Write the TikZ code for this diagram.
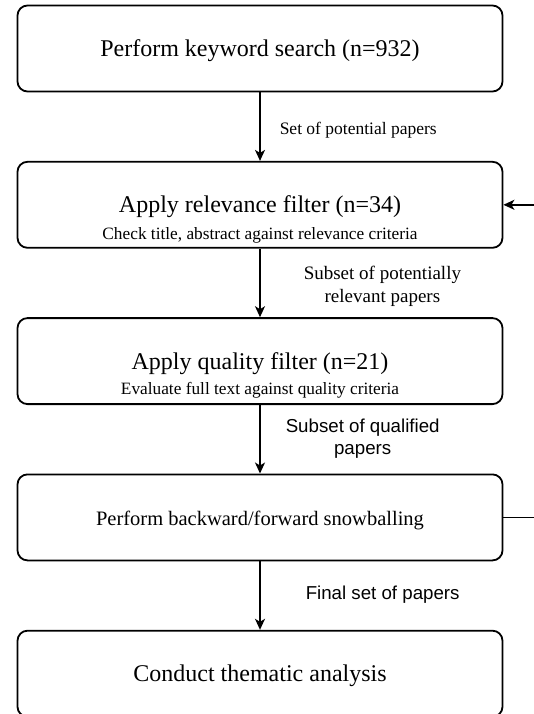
\documentclass[tikz,border=0pt]{standalone}
\usepackage{fontspec}
\setmainfont{Liberation Serif}
\newfontfamily\labelsans{Liberation Sans}
\usetikzlibrary{arrows.meta,positioning}

\begin{document}
\begin{tikzpicture}[
    x=1pt, y=-1pt,
    stepbox/.style={draw, line width=1.8pt, rounded corners=10pt, minimum width=485pt, minimum height=86pt, align=center, text height=18pt, text depth=2pt, font=\fontsize{24}{28}\selectfont},
    flow/.style={-{Stealth[length=11pt,width=10pt,inset=3pt]}, line width=1.5pt},
    note/.style={font=\fontsize{17.3}{20}\selectfont, inner sep=0pt},
    seriflabel/.style={font=\fontsize{19}{23}\selectfont, align=center, inner sep=0pt},
    sanslabel/.style={font=\labelsans\fontsize{18.7}{22}\selectfont, align=center, inner sep=0pt}
]
\useasboundingbox (0,0) rectangle (534,714);
\clip (0,0) rectangle (534,714);

% Steps of the review, top to bottom
\node[stepbox] (search) at (260,48.5) {Perform keyword search (n=932)};
\node[stepbox] (relevance) at (260,204.8) {Apply relevance filter (n=34)};
\node[note] (relevancenote) at (260,235) {Check title, abstract against relevance criteria};
\node[stepbox] (quality) at (260,361.1) {Apply quality filter (n=21)};
\node[note] (qualitynote) at (260,390) {Evaluate full text against quality criteria};
\node[stepbox, font=\fontsize{20.5}{24}\selectfont] (snowball) at (260,517.4) {Perform backward/forward snowballing};
\node[stepbox] (analysis) at (260,673.7) {Conduct thematic analysis};

% Flow between steps
\draw[flow] (search) to node[seriflabel, font=\fontsize{17.5}{21}\selectfont, right=19pt, pos=0.55] {Set of potential papers} (relevance);
\draw[flow] (relevance.south) to node[seriflabel, right=43pt, pos=0.55] {Subset of potentially\\relevant papers} (quality.north);
\draw[flow] (quality.south) to node[sanslabel, right=25pt, pos=0.49] {Subset of qualified\\papers} (snowball.north);
\draw[flow] (snowball) to node[sanslabel, right=45pt, pos=0.49] {Final set of papers} (analysis);

% Snowballing loops back to the relevance filter
\draw[flow] (snowball.east) -- ++(50,0) |- (relevance.east);

\end{tikzpicture}
\end{document}
